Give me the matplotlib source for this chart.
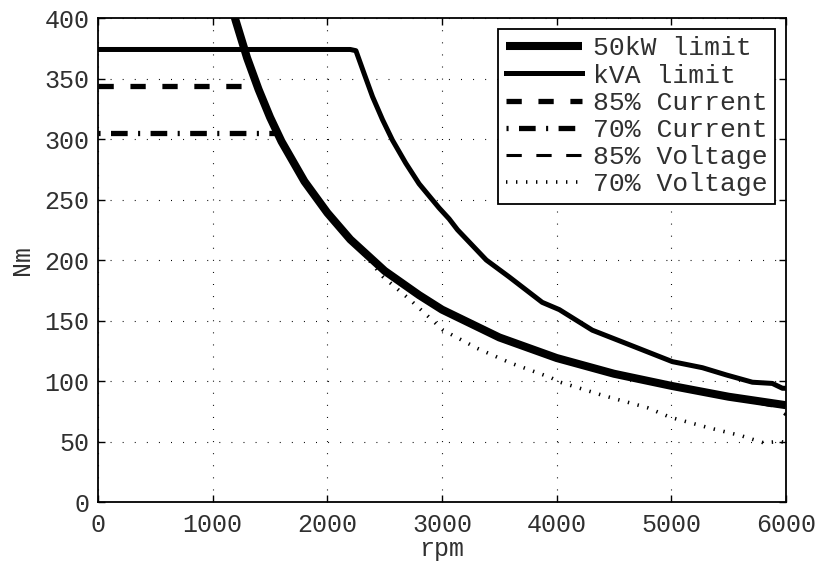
import matplotlib
matplotlib.use("Agg")
import matplotlib.pyplot as plt

plt.rcParams['font.family'] = ['Liberation Mono', 'DejaVu Sans Mono']
plt.rcParams['lines.scale_dashes'] = False

# ---- data ----
rpm_50kw = [1150, 1200, 1300, 1400, 1500, 1600, 1800, 2000, 2200, 2500, 2800, 3000,
            3500, 4000, 4500, 5000, 5500, 6000]
t_50kw = [415, 398, 367, 341, 318, 298, 265, 239, 217, 191, 171, 159,
          136, 119, 106, 96, 87, 80]

rpm_kva = [0, 2200, 2249, 2321, 2394, 2481, 2568, 2684, 2800, 2975, 3062, 3135,
           3386, 3586, 3874, 4023, 4311, 4607, 5009, 5271, 5480, 5707, 5881, 5969, 6000]
t_kva = [374, 374, 373, 354, 335, 316, 299, 280, 263, 243, 234, 225,
         200, 186, 165, 159, 142, 131, 116, 111, 105, 99, 98, 94, 94]

rpm_85c = [0, 1390]
t_85c = [344, 344]

rpm_70c = [0, 1565]
t_70c = [305, 305]

rpm_85v = [1150, 1200, 1300, 1400, 1500, 1600, 1800, 2000, 2200, 2500, 2800, 3000,
           3500, 4000, 4500, 5000, 5500, 5700, 5900, 6000]
t_85v = [415, 398, 367, 341, 318, 298, 265, 239, 217, 191, 171, 159,
         136, 119, 106, 96, 87, 83, 79, 72]

rpm_70v = [1150, 1200, 1300, 1400, 1500, 1600, 1800, 2000, 2200, 2300, 2487, 2723,
           3010, 3307, 3595, 3944, 4031, 4406, 4790, 4991, 5340, 5602, 5803, 5951, 6000]
t_70v = [415, 398, 367, 341, 318, 298, 265, 239, 217, 207, 186, 167,
         142, 127, 115, 103, 99, 88, 78, 70, 61, 55, 49, 50, 49]

labels = ['50kW limit', 'kVA limit', '85% Current', '70% Current',
          '85% Voltage', '70% Voltage']
x_ticks = [0, 1000, 2000, 3000, 4000, 5000, 6000]
y_ticks = [0, 50, 100, 150, 200, 250, 300, 350, 400]

TXT = '#303030'

# ---- figure ----
fig = plt.figure(figsize=(8.19, 5.65), dpi=100)
ax = fig.add_axes([0.1197, 0.1115, 0.8400, 0.8566])

ax.plot(rpm_50kw, t_50kw, color='black', lw=5.8, solid_capstyle='butt', label=labels[0])
ax.plot(rpm_kva, t_kva, color='black', lw=3.6, solid_joinstyle='round', label=labels[1])
ax.plot(rpm_85c, t_85c, color='black', lw=3.8, linestyle=(0, (11, 12)), label=labels[2])
ax.plot(rpm_70c, t_70c, color='black', lw=3.8,
        linestyle=(0, (1.5, 7.5, 12, 7.5)), label=labels[3])
ax.plot(rpm_85v, t_85v, color='black', lw=2.2, linestyle=(0, (11, 10.5)), label=labels[4])
ax.plot(rpm_70v, t_70v, color='black', lw=2.6, linestyle=(0, (1.0, 6.2)), label=labels[5])

ax.set_xlim(0, 6000)
ax.set_ylim(0, 400)
ax.set_xticks(x_ticks)
ax.set_yticks(y_ticks)
ax.grid(True, color='black', lw=0.8, linestyle=(0, (0.7, 8)))
ax.tick_params(direction='in', length=5, width=1, top=True, right=True,
               labelsize=18, labelcolor=TXT)
ax.tick_params(axis='x', pad=8)
ax.tick_params(axis='y', pad=6)
for s in ax.spines.values():
    s.set_linewidth(1.3)

ax.set_xlabel('rpm', fontsize=18, color=TXT, labelpad=0)
ax.set_ylabel('Nm', fontsize=18, color=TXT, labelpad=8)

leg = ax.legend(loc='upper right', fontsize=19, frameon=True, fancybox=False,
                edgecolor='black', framealpha=1, handlelength=2.9,
                handletextpad=0.4, labelspacing=0.12, borderpad=0.28,
                borderaxespad=0.42)
leg.get_frame().set_linewidth(1.3)
for t in leg.get_texts():
    t.set_color(TXT)

fig.savefig('out.png', dpi=100)
